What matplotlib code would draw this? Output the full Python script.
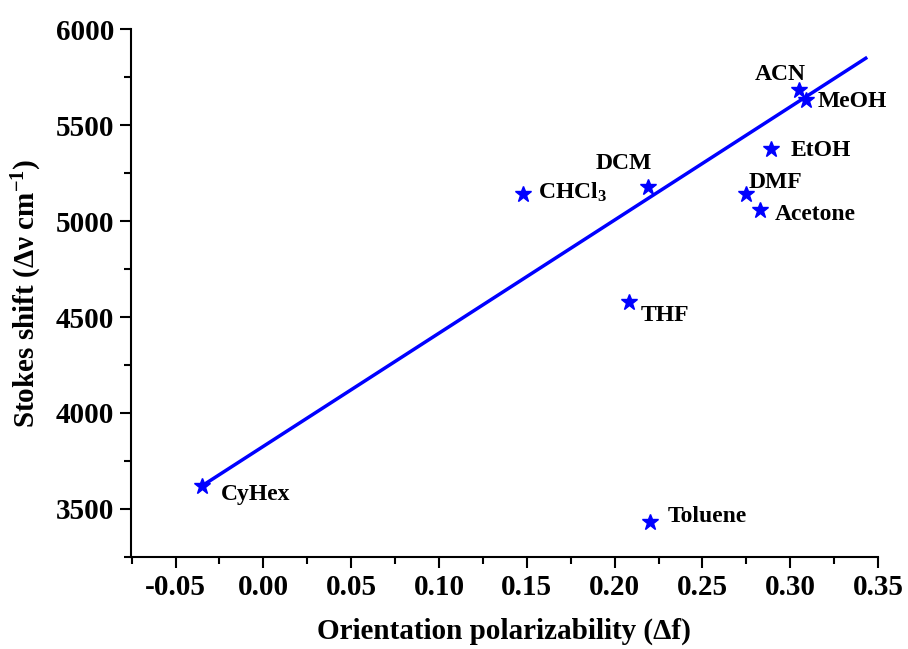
import matplotlib
matplotlib.use('Agg')
import numpy as np
import matplotlib.pyplot as plt
from matplotlib.ticker import MultipleLocator, FormatStrFormatter

# solvent data
solvents = ['CyHex', 'Toluene', 'THF', 'CHCl$_3$', 'DCM', 'DMF', 'Acetone', 'EtOH', 'ACN', 'MeOH']
delta_f = [-0.035, 0.220, 0.208, 0.148, 0.219, 0.275, 0.283, 0.289, 0.305, 0.309]
stokes = [3620, 3430, 4580, 5140, 5180, 5140, 5060, 5375, 5685, 5630]

# linear fit shown on the chart
fit_slope = 5897
fit_icpt = 3826
fit_x = [-0.035, 0.343]

# label offsets (pixels) and alignment
lab_dx = [19, 18, 12, 15, -24, 2, 14, 20, -19, 12]
lab_dy = [-9, 6, -14, 2, 23, 12, -5, -1, 15, -1]
lab_ha = ['left', 'left', 'left', 'left', 'center', 'left', 'left', 'left', 'center', 'left']

plt.rcParams['font.family'] = ['Liberation Serif', 'DejaVu Serif']
plt.rcParams['font.weight'] = 'bold'
plt.rcParams['mathtext.default'] = 'regular'

fig = plt.figure(figsize=(9.08, 6.49), dpi=100)
ax = fig.add_axes([0.144, 0.142, 0.823, 0.813])

xs = np.array(fit_x)
ax.plot(xs, fit_icpt + fit_slope * xs, color='#0000ff', linewidth=2.5, zorder=2)
ax.plot(delta_f, stokes, linestyle='none', marker='*', markersize=12,
        color='#0000ff', zorder=3)

for i in range(len(solvents)):
    ax.annotate(solvents[i], (delta_f[i], stokes[i]), xytext=(lab_dx[i], lab_dy[i]),
                textcoords='offset pixels', ha=lab_ha[i], va='center',
                fontsize=17, fontweight='bold')

ax.set_xlim(-0.0755, 0.35)
ax.set_ylim(3250, 6000)
ax.xaxis.set_major_locator(MultipleLocator(0.05))
ax.xaxis.set_minor_locator(MultipleLocator(0.025))
ax.xaxis.set_major_formatter(FormatStrFormatter('%.2f'))
ax.yaxis.set_major_locator(MultipleLocator(500))
ax.yaxis.set_minor_locator(MultipleLocator(250))

for s in ['top', 'right']:
    ax.spines[s].set_visible(False)
for s in ['left', 'bottom']:
    ax.spines[s].set_linewidth(1.5)

ax.tick_params(which='major', direction='out', length=8, width=1.5, labelsize=21, pad=4)
ax.tick_params(which='minor', direction='out', length=5, width=1.5)
for t in ax.get_xticklabels() + ax.get_yticklabels():
    t.set_fontweight('bold')

ax.set_xlabel('Orientation polarizability (\u0394f)', fontsize=21, fontweight='bold', labelpad=12)
ax.set_ylabel('Stokes shift (\u0394\u03bd cm$^{-1}$)', fontsize=21, fontweight='bold', labelpad=8)

plt.savefig('out.png', dpi=100)
